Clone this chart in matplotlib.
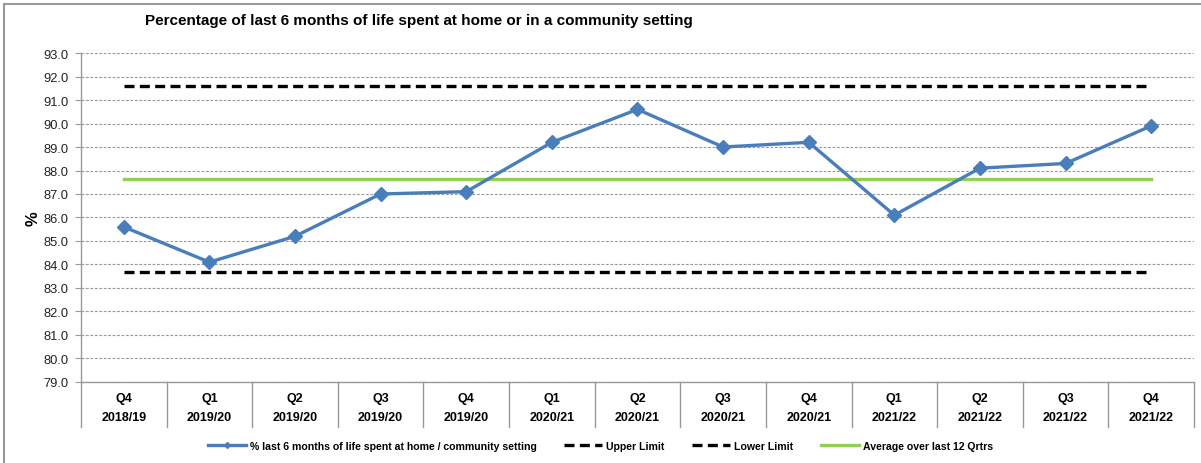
import numpy as np
import matplotlib.pyplot as plt
import matplotlib.transforms as transforms
from matplotlib.lines import Line2D

plt.rcParams['font.family'] = ['Liberation Sans', 'DejaVu Sans']

quarters = ['Q4', 'Q1', 'Q2', 'Q3', 'Q4', 'Q1', 'Q2', 'Q3', 'Q4', 'Q1', 'Q2', 'Q3', 'Q4']
years = ['2018/19', '2019/20', '2019/20', '2019/20', '2019/20', '2020/21', '2020/21',
         '2020/21', '2020/21', '2021/22', '2021/22', '2021/22', '2021/22']
pct_home = [85.6, 84.1, 85.2, 87.0, 87.1, 89.2, 90.6, 89.0, 89.2, 86.1, 88.1, 88.3, 89.9]
upper_limit = [91.6] * 13
lower_limit = [83.7] * 13
average_12q = [87.65] * 13

x = np.arange(len(quarters))

fig = plt.figure(figsize=(12.01, 4.64), dpi=100)
ax = fig.add_axes([0.0674, 0.1746, 0.9268, 0.709])

ax.plot(x, upper_limit, color='black', lw=2.4, dashes=(3, 1.6), label='Upper Limit')
ax.plot(x, lower_limit, color='black', lw=2.4, dashes=(3, 1.6), label='Lower Limit')
ax.plot(x, average_12q, color='#92D050', lw=2.4, label='Average over last 12 Qrtrs')
ax.plot(x, pct_home, color='#4A7EBB', lw=2.4, marker='D', markersize=7,
        label='% last 6 months of life spent at home / community setting')

ax.set_xlim(-0.5, len(x) - 0.5)
ax.set_ylim(79, 93)
ax.set_yticks(np.arange(79, 93.1, 1))
ax.set_yticklabels(['%.1f' % v for v in np.arange(79, 93.1, 1)], fontsize=9.3, color='#222222')
ax.yaxis.grid(True, color='#999999', ls=(0, (2.5, 1.5)), lw=0.8)
ax.set_axisbelow(True)
ax.set_xticks([])
ax.tick_params(axis='y', length=4, color='#999999', pad=5)

for s in ['top', 'right']:
    ax.spines[s].set_visible(False)
for s in ['left', 'bottom']:
    ax.spines[s].set_color('#999999')
    ax.spines[s].set_linewidth(1.0)

ax.set_ylabel('%', fontsize=12, fontweight='bold', labelpad=2)

# category axis labels with divider lines
trans = transforms.blended_transform_factory(ax.transData, ax.transAxes)
for b in np.arange(-0.5, len(x), 1.0):
    ax.plot([b, b], [0, -0.137], color='#999999', lw=1.0, transform=trans, clip_on=False)
for i in range(len(x)):
    ax.text(i, -0.05, quarters[i], transform=trans, ha='center', va='center',
            fontsize=9, fontweight='bold')
    ax.text(i, -0.107, years[i], transform=trans, ha='center', va='center',
            fontsize=9, fontweight='bold')

fig.text(0.121, 0.955, 'Percentage of last 6 months of life spent at home or in a community setting',
         fontsize=11, fontweight='bold', va='center')

handles = [
    Line2D([], [], color='#4A7EBB', lw=2.4, marker='D', markersize=3),
    Line2D([], [], color='black', lw=2.4, dashes=(3, 1.6)),
    Line2D([], [], color='black', lw=2.4, dashes=(3, 1.6)),
    Line2D([], [], color='#92D050', lw=2.4),
]
labels = ['% last 6 months of life spent at home / community setting', 'Upper Limit',
          'Lower Limit', 'Average over last 12 Qrtrs']
fig.legend(handles, labels, loc='center', bbox_to_anchor=(0.5, 0.037), ncol=4,
           frameon=False, prop={'size': 7.6, 'weight': 'bold'}, handlelength=3.6,
           columnspacing=2.6, handletextpad=0.4)

# outer chart frame
fig.add_artist(Line2D([0.003, 1], [0.99, 0.99], color='#999999', lw=1.5, transform=fig.transFigure))
fig.add_artist(Line2D([0.003, 0.003], [0, 0.99], color='#999999', lw=1.5, transform=fig.transFigure))

fig.savefig('out.png', dpi=100)
